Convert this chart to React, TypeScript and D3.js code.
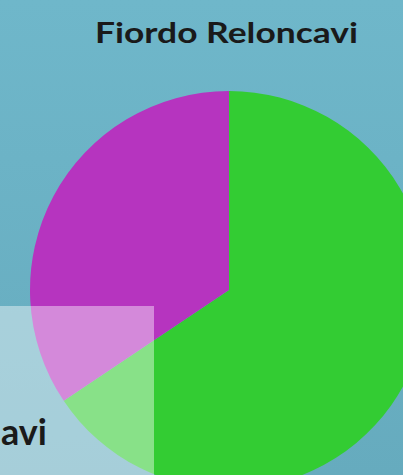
import React from "react";
import { pie, arc, scaleOrdinal } from "d3";

const title = "Fiordo Reloncavi";
const categories = ["Verde", "Magenta"];
const values = [65.6, 34.4];
const colors = ["#33cc33", "#b634bf"];
const cutLabel = "avi";

export default function App() {
  const width = 403;
  const height = 475;
  const cx = 229;
  const cy = 290;
  const radius = 199;

  const color = scaleOrdinal<string, string>().domain(categories).range(colors);
  const slices = pie<number>().sort(null)(values);
  const arcGen = arc<any>().innerRadius(0).outerRadius(radius);

  return (
    <svg
      width={width}
      height={height}
      style={{ position: "absolute", left: 0, top: 0, display: "block" }}
    >
      <defs>
        <linearGradient id="bg" x1="0" y1="0" x2="0" y2="1">
          <stop offset="0%" stopColor="#6fb7ca" />
          <stop offset="100%" stopColor="#66abbe" />
        </linearGradient>
      </defs>
      <rect width={width} height={height} fill="url(#bg)" />
      <text
        x={95}
        y={43}
        textLength={263}
        lengthAdjust="spacingAndGlyphs"
        fontFamily="Lato, 'Open Sans', sans-serif"
        fontWeight="bold"
        fontSize={29}
        fill="#1a1a1a"
      >
        {title}
      </text>
      <g transform={`translate(${cx},${cy})`}>
        {slices.map((s, i) => (
          <path key={i} d={arcGen(s) || ""} fill={color(categories[i])} />
        ))}
      </g>
      {/* overlay box from a second chart, cut off at the edge */}
      <rect x={0} y={306} width={154} height={height - 306} fill="#ffffff" fillOpacity={0.42} />
      <text
        x={47}
        y={445}
        textAnchor="end"
        fontFamily="Lato, 'Open Sans', sans-serif"
        fontWeight="bold"
        fontSize={36}
        fill="#1a1a1a"
      >
        {cutLabel}
      </text>
    </svg>
  );
}
